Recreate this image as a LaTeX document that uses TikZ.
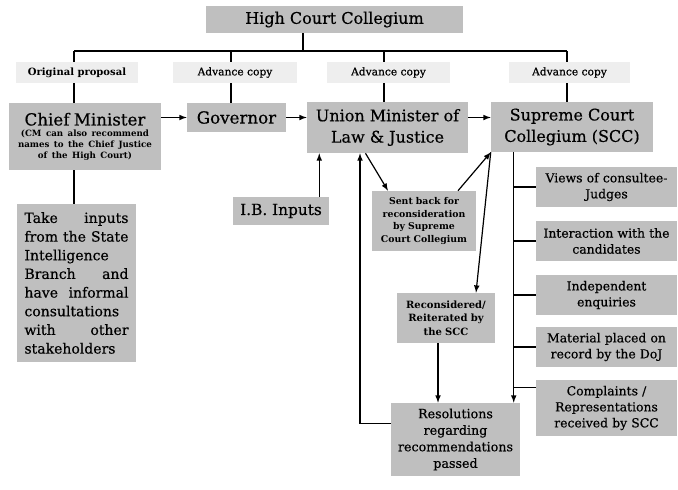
\documentclass[tikz,border=0pt]{standalone}
\usepackage{fontspec}
\setmainfont{DejaVu Serif}[UprightFeatures={FakeBold=0.5}]
\usetikzlibrary{calc}
\definecolor{boxgray}{RGB}{191,191,191}
\definecolor{labgray}{RGB}{238,238,238}
\tikzset{
  box/.style={fill=boxgray, inner sep=2pt, align=center},
  lab/.style={fill=labgray, inner sep=0pt, minimum height=15.75pt, font=\fontsize{8}{9}\selectfont},
  side/.style={box, minimum width=105.75pt, minimum height=30pt, text width=100pt, font=\fontsize{9.3}{12}\selectfont},
  small/.style={box, text width=70pt, font=\fontsize{7}{9.5}\selectfont\bfseries},
  ln/.style={line width=0.9pt},
  arr/.style={ln, -latex}
}

\begin{document}
\begin{tikzpicture}[x=0.75pt,y=-0.75pt]
        \useasboundingbox (0,0) rectangle (678,489);

        % Top box
        \node[box, minimum width=192.75pt, minimum height=20.25pt, font=\fontsize{12}{14}\selectfont] (hcc) at (334.5,19.5) {High Court Collegium};

        % Labels
        \node[lab, minimum width=91.5pt, font=\fontsize{7.5}{9}\selectfont\bfseries] (orig) at (77,72.5) {Original proposal};
        \node[lab, minimum width=93pt] (adv1) at (235,72.5) {Advance copy};
        \node[lab, minimum width=92.25pt] (adv2) at (388.5,72.5) {Advance copy};
        \node[lab, minimum width=90.75pt] (adv3) at (569.5,72.5) {Advance copy};

        % Main row
        \node[box, minimum width=114pt, minimum height=50.25pt, text width=110pt] (cm) at (85,136.5)
          {{\fontsize{12.5}{15}\selectfont Chief Minister\par}
           {\fontsize{6.5}{8.2}\selectfont\bfseries (CM can also recommend\\ names to the Chief Justice\\ of the High Court)\par}};
        \node[box, minimum width=74.25pt, minimum height=21.75pt, font=\fontsize{12.5}{15}\selectfont] (gov) at (236.5,117.5) {Governor};
        \node[box, minimum width=120.75pt, minimum height=38.25pt, font=\fontsize{12}{16}\selectfont] (umlj) at (387.5,127.5) {Union Minister of\\ Law \& Justice};
        \node[box, minimum width=121.5pt, minimum height=37.5pt, font=\fontsize{12}{16}\selectfont] (scc) at (572,127) {Supreme Court\\ Collegium (SCC)};

        % Left column
        \node[box, minimum width=89.25pt, minimum height=118.5pt, text width=78pt, align=justify, font=\fontsize{10.5}{14}\selectfont] (take) at (76.5,283)
          {Take inputs from the State Intelligence Branch and have informal consultations with other stakeholders};
        \node[box, minimum width=72pt, minimum height=21pt, font=\fontsize{11.5}{14}\selectfont] (ib) at (281,211) {I.B. Inputs};

        % Middle column
        \node[small, minimum width=78pt, minimum height=45pt] (sent) at (424,221) {Sent back for\\ reconsideration\\ by Supreme\\ Court Collegium};
        \node[small, minimum width=72pt, minimum height=37.5pt, font=\fontsize{7.5}{10}\selectfont\bfseries] (recon) at (446,318) {Reconsidered/\\ Reiterated by\\ the SCC};
        \node[box, minimum width=96.75pt, minimum height=54.75pt, text width=92pt, font=\fontsize{9.5}{12.4}\selectfont] (res) at (455.5,439.5) {Resolutions\\ regarding\\ recommendations\\ passed};

        % Right column
        \node[side] (views) at (606.5,187) {Views of consultee-\\ Judges};
        \node[side] (inter) at (606.5,241) {Interaction with the\\ candidates};
        \node[side] (indep) at (606.5,295) {Independent\\ enquiries};
        \node[side] (mat) at (606.5,347) {Material placed on\\ record by the DoJ};
        \node[side, minimum height=42pt] (comp) at (606.5,408) {Complaints /\\ Representations\\ received by SCC};

        % Bus lines
        \coordinate (bus) at (303,51);
        \coordinate (b1) at (74,51);
        \coordinate (b2) at (231,51);
        \coordinate (b3) at (384,51);
        \coordinate (b4) at (567,51);
        \draw[ln] (hcc.south -| bus) -- (bus);
        \draw[ln] (b1) -- (b4);
        \foreach \b/\l/\m in {b1/orig/cm, b2/adv1/gov, b3/adv2/umlj, b4/adv3/scc} {
          \draw[ln] (\b) -- (\b |- \l.north);
          \draw[ln] (\b |- \l.south) -- (\b |- \m.north);
        }

        % Arrows along the main row
        \draw[arr] (cm.east |- gov.west) -- (gov.west);
        \draw[arr] (gov.east) -- (umlj.west |- gov.east);
        \draw[arr] (umlj.east |- gov.east) -- (scc.west |- gov.east);
        \draw[ln] (b1 |- cm.south) -- (b1 |- take.north);

        % I.B. inputs
        \coordinate (ibup) at ($(ib.north east)+(-10,0)$);
        \draw[arr] (ibup) -- (ibup |- umlj.south);

        % Sent back and reconsidered
        \draw[arr] ($(umlj.south)+(-22,0)$) -- ($(sent.north)+(-36,0)$);
        \draw[arr] ($(sent.north)+(34,0)$) -- (scc.south west);
        \draw[arr] (scc.south west) -- ($(recon.north)+(30,0)$);
        \coordinate (recdown) at ($(recon.south)+(-8,0)$);
        \draw[arr] (recdown) -- (recdown |- res.north);
        \draw[arr] ($(res.west)+(0,-16)$) -| ($(umlj.south)+(-27.5,0)$);

        % SCC trunk
        \coordinate (trunk) at ($(scc.south west)+(23,0)$);
        \coordinate (compin) at ($(comp.north west)+(0,8)$);
        \draw[arr] (trunk) -- (trunk |- res.north);
        \foreach \n in {views.west, inter.west, indep.west, mat.west, compin}
          \draw[ln] (trunk |- \n) -- (\n);

\end{tikzpicture}
\end{document}
